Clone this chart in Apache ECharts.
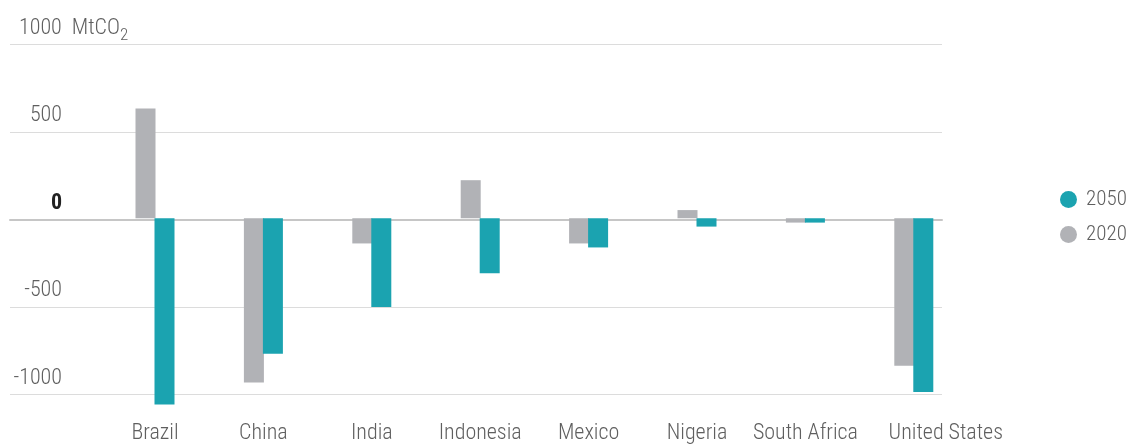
<!DOCTYPE html>
<html>
<head>
  <meta charset="utf-8">
  <title></title>
  <script src="https://cdn.jsdelivr.net/npm/echarts@6/dist/echarts.min.js"></script>
  <style>
    html, body { margin: 0; padding: 0; background: #fff; }
    #chart { width: 1131px; height: 444px; }
  </style>
</head>
<body>
<div id="chart"></div>
<script>
  var countries = ['Brazil', 'China', 'India', 'Indonesia', 'Mexico', 'Nigeria', 'South Africa', 'United States'];
  var values2020 = [631, -946, -145, 219, -145, 47, -25, -849];
  var values2050 = [-1072, -780, -511, -317, -168, -48, -25, -1000];
  var yTicks = [-1000, -500, 0, 500, 1000];

  var font = '"Roboto Condensed", "Liberation Sans Narrow", "Roboto", sans-serif';
  var fs = 22;
  var fw = 300;
  var teal = '#1ba3b0';
  var grey = '#b1b2b6';
  var txt = '#5f5f5f';

  var chart = echarts.init(document.getElementById('chart'));

  var option = {
    animation: false,
    textStyle: { fontFamily: font },
    legend: {
      orient: 'vertical',
      left: 1055,
      top: 184,
      icon: 'circle',
      itemWidth: 17,
      itemHeight: 17,
      itemGap: 14,
      data: ['2050', '2020'],
      textStyle: { fontFamily: font, fontSize: 21, fontWeight: fw, color: txt, padding: [0, 0, 0, 4] }
    },
    grid: [
      // grid lines
      { left: 10, right: 189, top: 44.5, bottom: 49.7 },
      // bars
      { left: 100.8, right: 163, top: 44.5, bottom: 49.7 }
    ],
    xAxis: [
      {
        type: 'category', gridIndex: 0, data: [''],
        axisLine: { show: true, onZero: true, lineStyle: { color: '#c6c6c6', width: 2 } },
        axisTick: { show: false }, axisLabel: { show: false }
      },
      {
        type: 'category', gridIndex: 1, data: countries,
        axisLine: { show: false }, axisTick: { show: false },
        axisLabel: {
          interval: 0,
          margin: 30,
          fontFamily: font, fontSize: fs, fontWeight: fw, color: txt,
          formatter: function (v) {
            return v === 'United States' ? '{us|' + v + '}' : v;
          },
          rich: {
            us: { fontFamily: font, fontSize: fs, fontWeight: fw, color: txt, padding: [0, 0, 0, 64] }
          }
        }
      }
    ],
    yAxis: [
      {
        type: 'value', gridIndex: 0, min: yTicks[0], max: yTicks[yTicks.length - 1], interval: 500,
        axisLine: { show: false }, axisTick: { show: false },
        splitLine: { lineStyle: { color: '#dcdcdc', width: 1 } },
        axisLabel: {
          margin: 0,
          align: 'left',
          verticalAlign: 'bottom',
          padding: [0, 0, 5, 0],
          fontFamily: font, fontSize: fs, fontWeight: fw, color: txt,
          formatter: function (v) {
            if (v === 0) return '{z|0}';
            if (v === 1000) return '{w|1000}{u|  MtCO}{s|2}';
            return '{v|' + v + '}';
          },
          rich: {
            v: { width: 52, align: 'right', fontFamily: font, fontSize: fs, fontWeight: fw, color: txt },
            w: { padding: [0, 0, 0, 9], fontFamily: font, fontSize: fs, fontWeight: fw, color: txt },
            z: { width: 52, align: 'right', fontFamily: font, fontSize: fs, color: '#222', fontWeight: 'bold' },
            u: { fontFamily: font, fontSize: fs, fontWeight: fw, color: txt },
            s: { fontFamily: font, fontSize: 17, fontWeight: fw, color: txt, verticalAlign: 'bottom', padding: [0, 0, -5, 0] }
          }
        }
      },
      {
        type: 'value', gridIndex: 1, min: yTicks[0], max: yTicks[yTicks.length - 1], interval: 500,
        show: false, splitLine: { show: false }
      }
    ],
    series: [
      {
        name: '2020', type: 'bar', xAxisIndex: 1, yAxisIndex: 1,
        data: values2020, barWidth: 20, barGap: '-5%', clip: false,
        itemStyle: { color: grey }
      },
      {
        name: '2050', type: 'bar', xAxisIndex: 1, yAxisIndex: 1,
        data: values2050, barWidth: 20, barGap: '-5%', clip: false,
        itemStyle: { color: teal }
      }
    ]
  };

  chart.setOption(option);
  window.onresize = function () {
    chart.resize();
  };
</script>
</body>
</html>
